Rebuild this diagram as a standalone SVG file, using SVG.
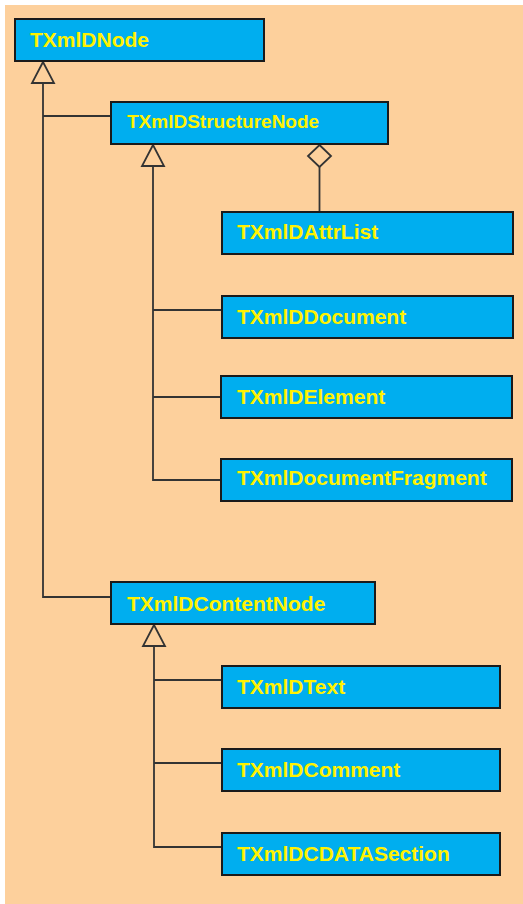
<svg xmlns="http://www.w3.org/2000/svg" width="523" height="904" viewBox="0 0 523 904">
<style>
.box{fill:#00AEEF;stroke:#1a1a1a;stroke-width:2}
.lbl{font-family:"Liberation Sans",Arial,sans-serif;font-weight:bold;font-size:21px;fill:#FFF200}
.ln{fill:none;stroke:#333;stroke-width:1.8}
.tri{fill:#FDD09C;stroke:#333;stroke-width:1.8}
</style>
<rect x="5" y="5" width="518" height="899" fill="#FDD09C"/>
<g id="connectors">
<polyline class="ln" points="43,83 43,597 111,597"/>
<line class="ln" x1="43" y1="116" x2="111" y2="116"/>
<polygon class="tri" points="43,62 32,83 54,83"/>
<polyline class="ln" points="153,166 153,480 221,480"/>
<line class="ln" x1="153" y1="310" x2="222" y2="310"/>
<line class="ln" x1="153" y1="397" x2="221" y2="397"/>
<polygon class="tri" points="153,145 142,166 164,166"/>
<line class="ln" x1="319.5" y1="167" x2="319.5" y2="212"/>
<polygon class="tri" points="319.5,145 331,156 319.5,167 308,156"/>
<polyline class="ln" points="154,646 154,847 222,847"/>
<line class="ln" x1="154" y1="680" x2="222" y2="680"/>
<line class="ln" x1="154" y1="763" x2="222" y2="763"/>
<polygon class="tri" points="154,625 143,646 165,646"/>
</g>
<g id="TXmlDNode"><rect class="box" x="15" y="19" width="249" height="42"/><text class="lbl" x="30" y="47">TXmlDNode</text></g>
<g id="TXmlDStructureNode"><rect class="box" x="111" y="102" width="277" height="42"/><text class="lbl" x="127" y="128" style="font-size:19px">TXmlDStructureNode</text></g>
<g id="TXmlDAttrList"><rect class="box" x="222" y="212" width="291" height="42"/><text class="lbl" x="237" y="239">TXmlDAttrList</text></g>
<g id="TXmlDDocument"><rect class="box" x="222" y="296" width="291" height="42"/><text class="lbl" x="237" y="324">TXmlDDocument</text></g>
<g id="TXmlDElement"><rect class="box" x="221" y="376" width="291" height="42"/><text class="lbl" x="237" y="404">TXmlDElement</text></g>
<g id="TXmlDocumentFragment"><rect class="box" x="221" y="459" width="291" height="42"/><text class="lbl" x="237" y="485">TXmlDocumentFragment</text></g>
<g id="TXmlDContentNode"><rect class="box" x="111" y="582" width="264" height="42"/><text class="lbl" x="127" y="611">TXmlDContentNode</text></g>
<g id="TXmlDText"><rect class="box" x="222" y="666" width="278" height="42"/><text class="lbl" x="237" y="694">TXmlDText</text></g>
<g id="TXmlDComment"><rect class="box" x="222" y="749" width="278" height="42"/><text class="lbl" x="237" y="777">TXmlDComment</text></g>
<g id="TXmlDCDATASection"><rect class="box" x="222" y="833" width="278" height="42"/><text class="lbl" x="237" y="861">TXmlDCDATASection</text></g>
</svg>
